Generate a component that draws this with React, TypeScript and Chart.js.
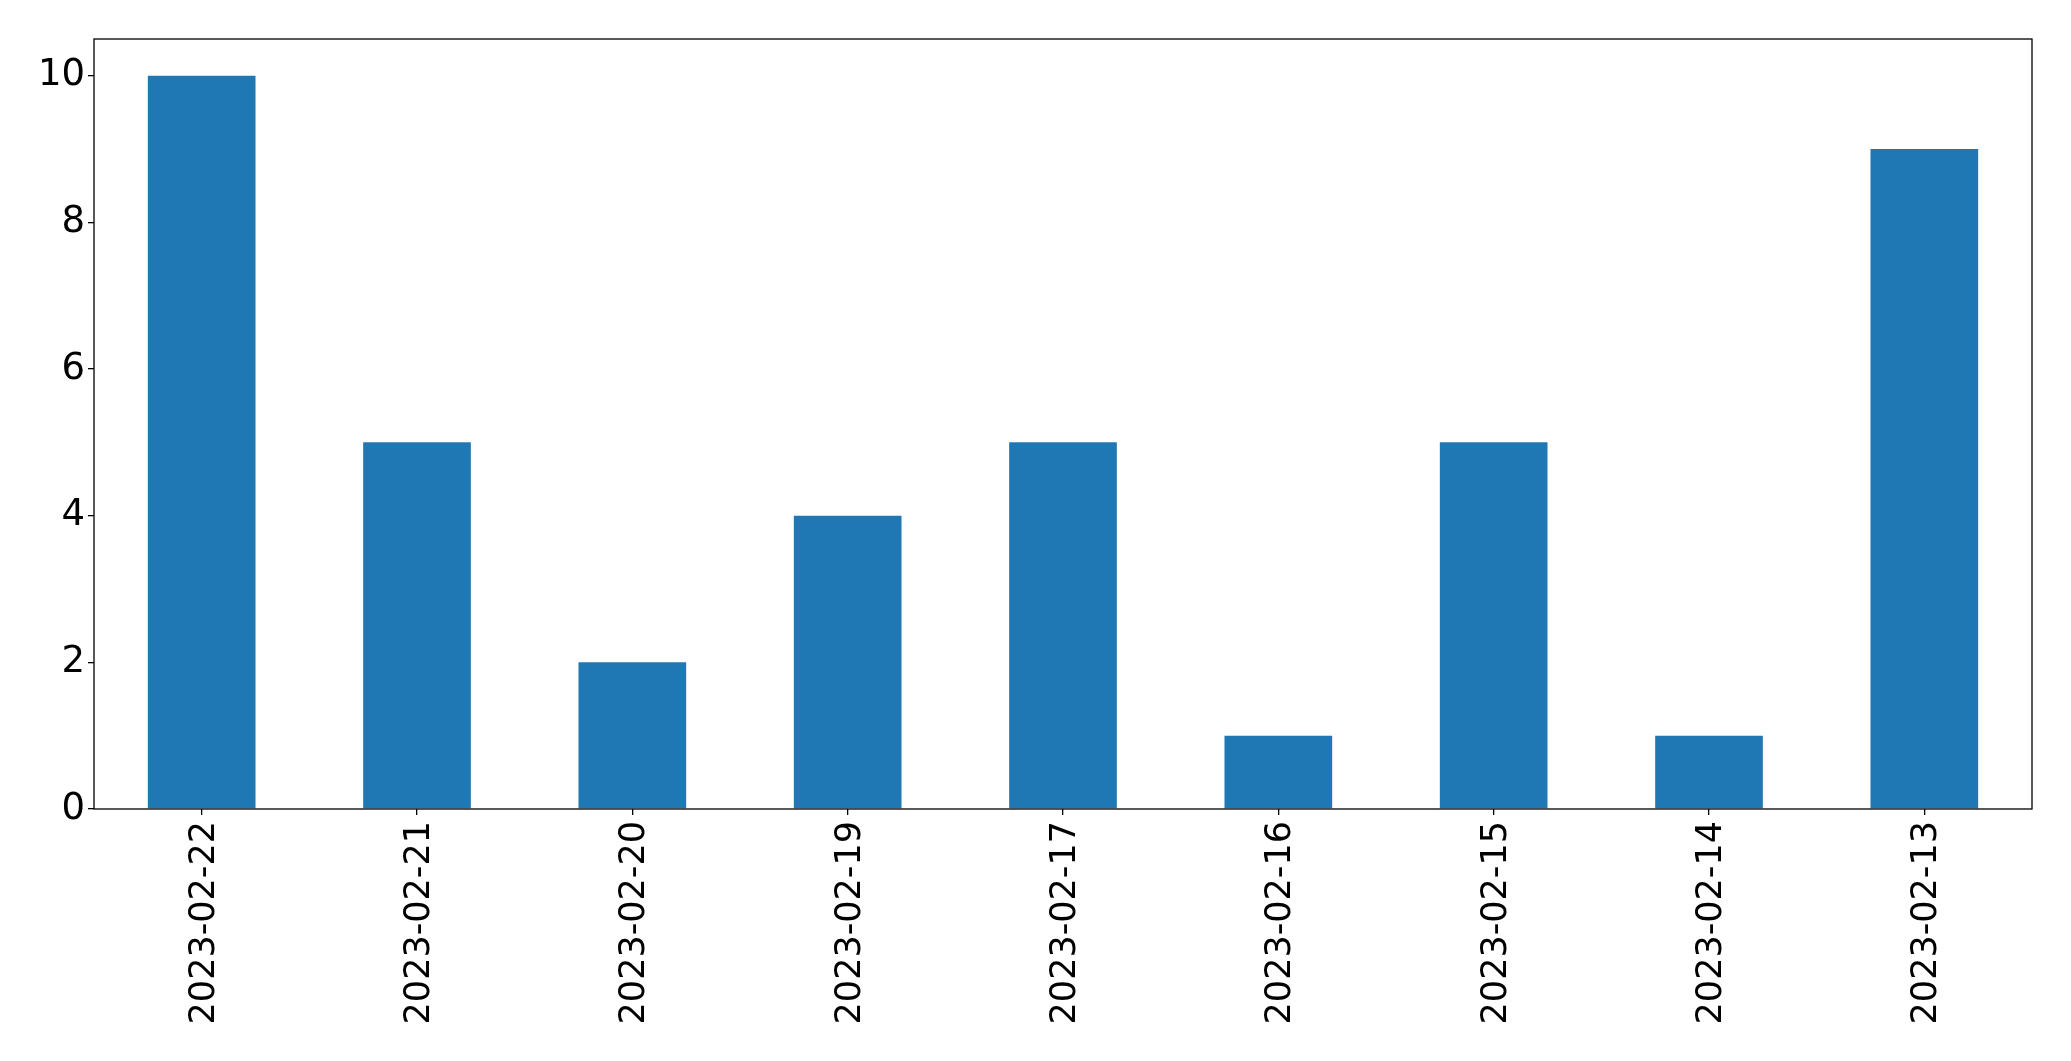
import React, { useEffect, useRef } from "react";
import { Chart, registerables } from "chart.js";

Chart.register(...registerables);

const categories = [
  "2023-02-22",
  "2023-02-21",
  "2023-02-20",
  "2023-02-19",
  "2023-02-17",
  "2023-02-16",
  "2023-02-15",
  "2023-02-14",
  "2023-02-13",
];
const counts = [10, 5, 2, 4, 5, 1, 5, 1, 9];
const yTicks = [0, 2, 4, 6, 8, 10];

const frame = {
  id: "frame",
  afterDraw(chart: any) {
    const { ctx, chartArea } = chart;
    ctx.save();
    ctx.strokeStyle = "#000";
    ctx.lineWidth = 1.3;
    ctx.strokeRect(chartArea.left, chartArea.top, chartArea.right - chartArea.left, chartArea.bottom - chartArea.top);
    ctx.restore();
  },
};

export default function App() {
  const ref = useRef<HTMLCanvasElement>(null);
  useEffect(() => {
    if (!ref.current) return;
    const font = { family: "'DejaVu Sans', sans-serif", size: 35 };
    const chart = new Chart(ref.current, {
      type: "bar",
      data: {
        labels: categories,
        datasets: [
          {
            data: counts,
            backgroundColor: "#1f77b4",
            barPercentage: 0.5,
            categoryPercentage: 1,
          },
        ],
      },
      options: {
        animation: false,
        responsive: false,
        maintainAspectRatio: false,
        layout: { padding: { top: 39, right: 39, left: 0, bottom: 0 } },
        plugins: { legend: { display: false }, tooltip: { enabled: false } },
        scales: {
          x: {
            offset: true,
            grid: { offset: false, drawOnChartArea: false, drawTicks: true, tickLength: 6, color: "#000", lineWidth: 1.3 },
            border: { display: false },
            ticks: { color: "#000", font, maxRotation: 90, minRotation: 90, padding: 6, autoSkip: false, labelOffset: 3 },
            afterFit: (s: any) => {
              s.height = 252;
            },
          },
          y: {
            min: 0,
            max: 10.5,
            grid: { drawOnChartArea: false, drawTicks: true, tickLength: 6, color: "#000", lineWidth: 1.3 },
            border: { display: false },
            ticks: { color: "#000", font: { ...font, size: 37 }, stepSize: 2, includeBounds: false, padding: 3 },
            afterBuildTicks: (s: any) => {
              s.ticks = yTicks.map((v) => ({ value: v }));
            },
            afterFit: (s: any) => {
              s.width = 94;
            },
          },
        },
      },
      plugins: [frame],
    });
    return () => chart.destroy();
  }, []);
  return (
    <div style={{ position: "fixed", left: 0, top: 0, width: 2071, height: 1061, background: "#fff" }}>
      <canvas ref={ref} width={2071} height={1061} style={{ width: 2071, height: 1061 }} />
    </div>
  );
}
